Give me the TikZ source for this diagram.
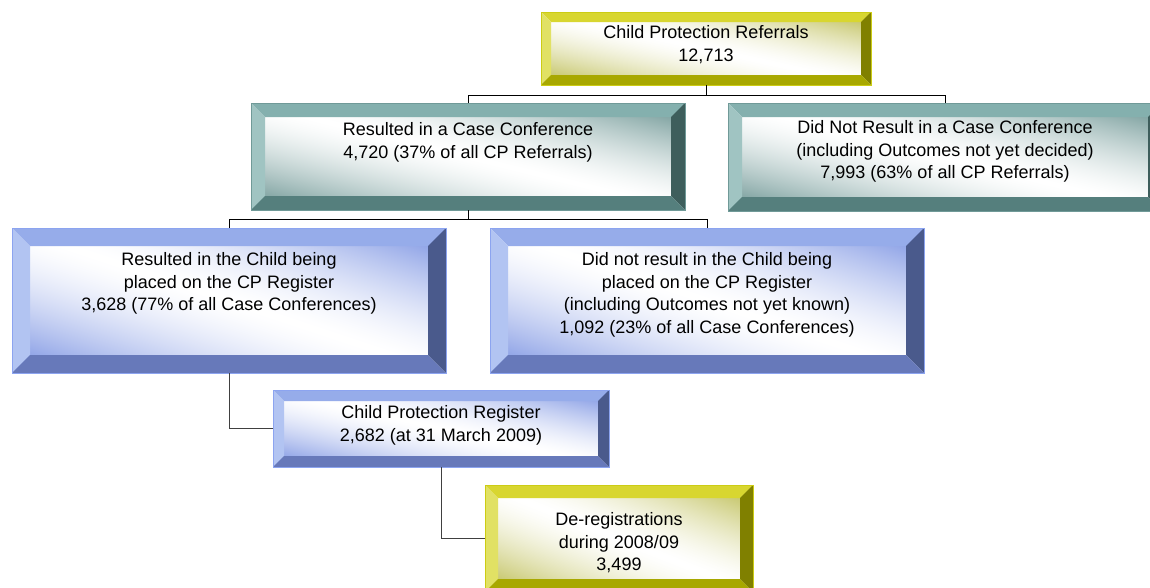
\documentclass[tikz,border=0pt]{standalone}
\usepackage{fontspec}
\setmainfont{Liberation Sans}
\usetikzlibrary{positioning}

\definecolor{yeltop}{RGB}{216,214,48}
\definecolor{yelleft}{RGB}{225,225,100}
\definecolor{yelright}{RGB}{128,128,0}
\definecolor{yelbottom}{RGB}{168,168,0}
\definecolor{yelline}{RGB}{204,204,20}
\definecolor{tealtop}{RGB}{132,176,174}
\definecolor{tealleft}{RGB}{160,196,194}
\definecolor{tealright}{RGB}{62,94,92}
\definecolor{tealbottom}{RGB}{85,127,125}
\definecolor{tealline}{RGB}{112,154,152}
\definecolor{bluetop}{RGB}{150,172,234}
\definecolor{blueleft}{RGB}{178,196,242}
\definecolor{blueright}{RGB}{74,90,140}
\definecolor{bluebottom}{RGB}{103,121,186}
\definecolor{blueline}{RGB}{140,164,240}

% colour in the top right and bottom left corners, white across the middle
\pgfdeclarefunctionalshading{yeldiag}{\pgfpointorigin}{\pgfpoint{100bp}{100bp}}{}{
  add 100 sub abs 50 div dup sqrt mul
  dup 0.278 mul 1 exch sub exch
  dup 0.278 mul 1 exch sub exch
  0.725 mul 1 exch sub
}
\pgfdeclarefunctionalshading{tealdiag}{\pgfpointorigin}{\pgfpoint{100bp}{100bp}}{}{
  add 100 sub abs 50 div dup sqrt mul
  dup 0.624 mul 1 exch sub exch
  dup 0.451 mul 1 exch sub exch
  0.459 mul 1 exch sub
}
\pgfdeclarefunctionalshading{bluediag}{\pgfpointorigin}{\pgfpoint{100bp}{100bp}}{}{
  add 100 sub abs 50 div dup sqrt mul
  dup 0.561 mul 1 exch sub exch
  dup 0.459 mul 1 exch sub exch
  0.122 mul 1 exch sub
}

\tikzset{
  bevel/.style n args={5}{path picture={
    \path (path picture bounding box.north west) coordinate (nw)
          (path picture bounding box.north east) coordinate (ne)
          (path picture bounding box.south west) coordinate (sw)
          (path picture bounding box.south east) coordinate (se);
    \fill[#2] (nw) -- (ne) -- ([shift={(-#1pt,-#1pt)}]ne) -- ([shift={(#1pt,-#1pt)}]nw) -- cycle;
    \fill[#3] (nw) -- ([shift={(#1pt,-#1pt)}]nw) -- ([shift={(#1pt,#1pt)}]sw) -- (sw) -- cycle;
    \fill[#4] (ne) -- (se) -- ([shift={(-#1pt,#1pt)}]se) -- ([shift={(-#1pt,-#1pt)}]ne) -- cycle;
    \fill[#5] (sw) -- ([shift={(#1pt,#1pt)}]sw) -- ([shift={(-#1pt,#1pt)}]se) -- (se) -- cycle;
  }},
  panel/.style={rectangle, inner sep=0pt, line width=0.8pt},
  yellowbox/.style={panel, draw=yelline, shading=yeldiag,
    bevel={#1}{yeltop}{yelleft}{yelright}{yelbottom}},
  tealbox/.style={panel, draw=tealline, shading=tealdiag,
    bevel={#1}{tealtop}{tealleft}{tealright}{tealbottom}},
  bluebox/.style={panel, draw=blueline, shading=bluediag,
    bevel={#1}{bluetop}{blueleft}{blueright}{bluebottom}},
  boxtext/.style={align=center, inner sep=0pt, font=\fontsize{18}{22.5}\selectfont},
  link/.style={line width=1pt}
}

\begin{document}
\begin{tikzpicture}[x=1pt, y=-1pt]
      \useasboundingbox (0,0) rectangle (1150,587);
      \clip (0,0) rectangle (1150,587);
      \node[yellowbox=10, minimum width=330pt, minimum height=73pt] (referrals) at (706,48.5) {};
      \node[tealbox=14, minimum width=434pt, minimum height=107pt] (conference) at (468,156.5) {};
      \node[tealbox=14, minimum width=434pt, minimum height=108pt] (noconference) at (945,157) {};
      \node[bluebox=18, minimum width=434pt, minimum height=145pt] (placed) at (229,300.5) {};
      \node[bluebox=18, minimum width=434pt, minimum height=145pt] (notplaced) at (707,300.5) {};
      \node[bluebox=11, minimum width=336pt, minimum height=77pt] (register) at (441,428.5) {};
      \node[yellowbox=13, minimum width=268pt, minimum height=107pt] (dereg) at (619,538.5) {};
      % texts
      \node[boxtext, below=14pt of referrals.north] (referralstext)
        {Child Protection Referrals\\12,713};
      \node[boxtext, below=20pt of conference.north] (conferencetext)
        {Resulted in a Case Conference\\4,720 (37\% of all CP Referrals)};
      \node[boxtext, below=18pt of noconference.north] (noconferencetext)
        {Did Not Result in a Case Conference\\(including Outcomes not yet decided)\\7,993 (63\% of all CP Referrals)};
      \node[boxtext, below=25pt of placed.north] (placedtext)
        {Resulted in the Child being\\placed on the CP Register\\3,628 (77\% of all Case Conferences)};
      \node[boxtext, below=25pt of notplaced.north] (notplacedtext)
        {Did not result in the Child being\\placed on the CP Register\\(including Outcomes not yet known)\\1,092 (23\% of all Case Conferences)};
      \node[boxtext, below=16pt of register.north] (registertext)
        {Child Protection Register\\2,682 (at 31 March 2009)};
      \node[boxtext, below=28pt of dereg.north] (deregtext)
        {De-registrations\\during 2008/09\\3,499};
      % connectors
      \begin{scope}[link]
        \draw (referrals.south) -- ++(0,10) coordinate (split1);
        \draw (split1) -| (conference.north);
        \draw (split1) -| (noconference.north);
        \draw (conference.south) -- ++(0,9) coordinate (split2);
        \draw (split2) -| (placed.north);
        \draw (split2) -| (notplaced.north);
      \end{scope}
      \begin{scope}[link, draw=black!75]
        \draw (placed.south) |- (register.west);
        \draw (register.south) |- (dereg.west);
      \end{scope}
    \end{tikzpicture}
\end{document}
